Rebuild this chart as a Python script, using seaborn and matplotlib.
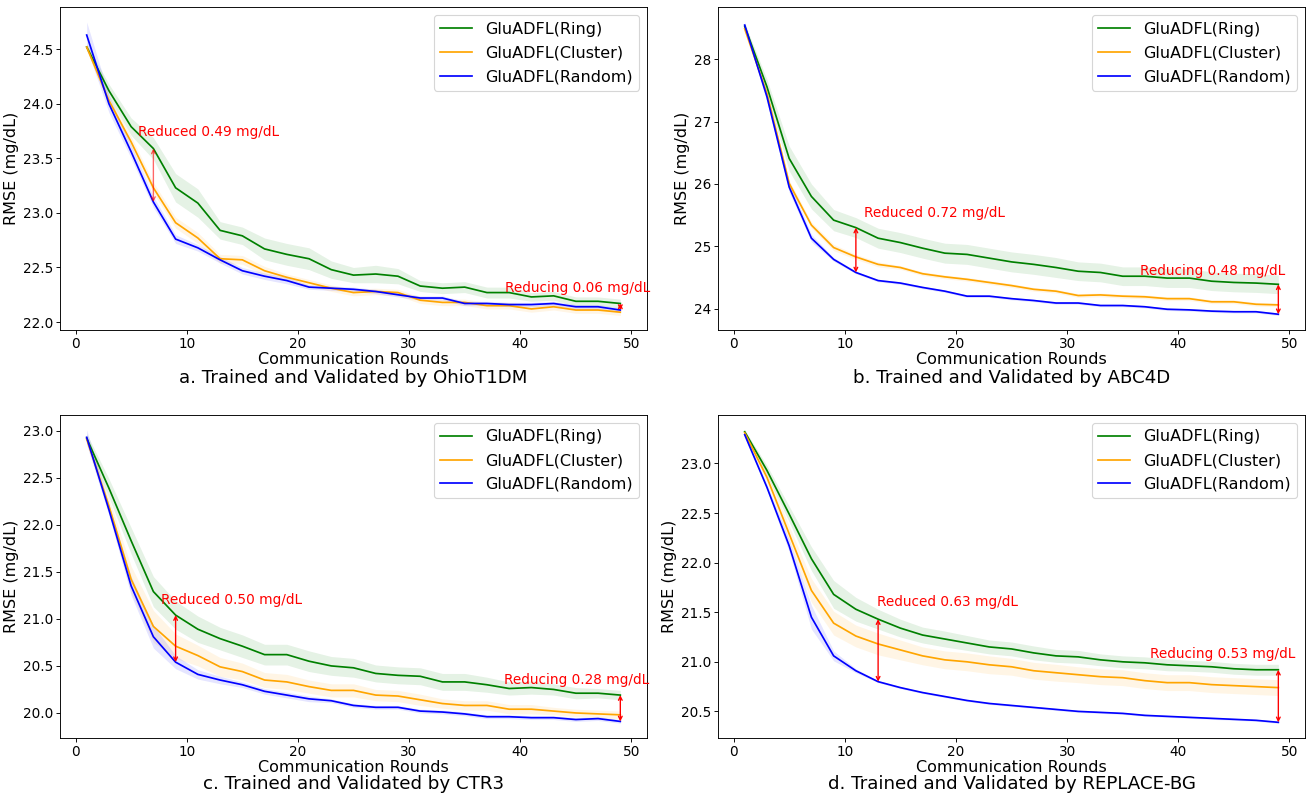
import numpy as np
import pandas as pd
import matplotlib
matplotlib.use("Agg")
import matplotlib.pyplot as plt
import seaborn as sns

# ---------------- data ----------------
rounds = list(range(1, 50, 2))
series_names = ["GluADFL(Ring)", "GluADFL(Cluster)", "GluADFL(Random)"]

# a. OhioT1DM
ohio_ring = [24.52, 24.12, 23.79, 23.59, 23.23, 23.09, 22.84, 22.79, 22.67, 22.62, 22.58, 22.48, 22.43,
             22.44, 22.42, 22.33, 22.31, 22.32, 22.27, 22.27, 22.23, 22.24, 22.19, 22.19, 22.17]
ohio_cluster = [24.52, 24.03, 23.65, 23.23, 22.91, 22.77, 22.58, 22.57, 22.47, 22.41, 22.36, 22.31, 22.27,
                22.28, 22.27, 22.20, 22.18, 22.18, 22.15, 22.15, 22.12, 22.14, 22.11, 22.11, 22.09]
ohio_random = [24.63, 24.00, 23.56, 23.10, 22.76, 22.68, 22.57, 22.47, 22.42, 22.38, 22.32, 22.31, 22.30,
               22.28, 22.25, 22.22, 22.22, 22.17, 22.17, 22.16, 22.16, 22.17, 22.14, 22.14, 22.11]
ohio_ring_sd = [0.03, 0.06, 0.08, 0.10, 0.13, 0.13, 0.08, 0.08, 0.10, 0.10, 0.10, 0.08, 0.07,
                0.08, 0.07, 0.05, 0.05, 0.05, 0.05, 0.05, 0.04, 0.04, 0.04, 0.04, 0.04]
ohio_cluster_sd = [0.03, 0.04, 0.05, 0.05, 0.05, 0.05, 0.04, 0.04, 0.04, 0.03, 0.03, 0.03, 0.03,
                   0.03, 0.03, 0.03, 0.03, 0.03, 0.03, 0.03, 0.03, 0.03, 0.03, 0.03, 0.03]
ohio_random_sd = [0.12, 0.08, 0.06, 0.05, 0.04, 0.03, 0.03, 0.03, 0.03, 0.03, 0.02, 0.02, 0.02,
                  0.02, 0.02, 0.02, 0.02, 0.02, 0.02, 0.02, 0.02, 0.02, 0.02, 0.02, 0.02]

# b. ABC4D
abc_ring = [28.53, 27.56, 26.41, 25.80, 25.42, 25.30, 25.13, 25.06, 24.97, 24.89, 24.87, 24.81, 24.75,
            24.71, 24.66, 24.60, 24.58, 24.52, 24.52, 24.49, 24.49, 24.44, 24.42, 24.41, 24.39]
abc_cluster = [28.49, 27.45, 26.01, 25.34, 24.98, 24.83, 24.71, 24.66, 24.56, 24.51, 24.47, 24.42, 24.37,
               24.31, 24.28, 24.21, 24.22, 24.20, 24.19, 24.16, 24.16, 24.11, 24.11, 24.07, 24.06]
abc_random = [28.55, 27.40, 25.95, 25.13, 24.79, 24.58, 24.45, 24.41, 24.34, 24.28, 24.20, 24.20, 24.16,
              24.13, 24.09, 24.09, 24.05, 24.05, 24.03, 23.99, 23.98, 23.96, 23.95, 23.95, 23.91]
abc_ring_sd = [0.05, 0.12, 0.20, 0.20, 0.17, 0.16, 0.16, 0.16, 0.16, 0.16, 0.16, 0.16, 0.16,
               0.16, 0.16, 0.15, 0.15, 0.15, 0.15, 0.15, 0.15, 0.15, 0.15, 0.15, 0.15]
abc_cluster_sd = [0.03, 0.04, 0.05, 0.05, 0.05, 0.04, 0.04, 0.03, 0.03, 0.03, 0.03, 0.03, 0.03,
                  0.03, 0.03, 0.03, 0.03, 0.03, 0.03, 0.03, 0.03, 0.03, 0.03, 0.03, 0.03]
abc_random_sd = [0.05, 0.08, 0.08, 0.06, 0.03, 0.02, 0.02, 0.02, 0.02, 0.02, 0.02, 0.02, 0.02,
                 0.02, 0.02, 0.02, 0.02, 0.02, 0.02, 0.02, 0.02, 0.02, 0.02, 0.02, 0.02]

# c. CTR3
ctr_ring = [22.92, 22.39, 21.83, 21.29, 21.04, 20.89, 20.79, 20.71, 20.62, 20.62, 20.55, 20.50, 20.48,
            20.42, 20.40, 20.39, 20.33, 20.33, 20.30, 20.26, 20.27, 20.25, 20.21, 20.21, 20.19]
ctr_cluster = [22.91, 22.20, 21.42, 20.92, 20.71, 20.61, 20.49, 20.44, 20.35, 20.33, 20.28, 20.24, 20.24,
               20.19, 20.18, 20.14, 20.10, 20.08, 20.08, 20.04, 20.04, 20.02, 20.00, 19.99, 19.98]
ctr_random = [22.93, 22.16, 21.35, 20.81, 20.54, 20.41, 20.35, 20.30, 20.23, 20.19, 20.15, 20.13, 20.08,
              20.06, 20.06, 20.02, 20.01, 19.99, 19.96, 19.96, 19.95, 19.95, 19.93, 19.94, 19.91]
ctr_ring_sd = [0.05, 0.10, 0.14, 0.16, 0.15, 0.14, 0.12, 0.12, 0.11, 0.11, 0.11, 0.10, 0.10,
               0.09, 0.09, 0.09, 0.09, 0.09, 0.08, 0.07, 0.07, 0.06, 0.06, 0.05, 0.05]
ctr_cluster_sd = [0.04, 0.08, 0.14, 0.17, 0.13, 0.11, 0.10, 0.09, 0.08, 0.08, 0.07, 0.07, 0.07,
                  0.06, 0.06, 0.06, 0.05, 0.05, 0.05, 0.05, 0.05, 0.04, 0.04, 0.04, 0.04]
ctr_random_sd = [0.08, 0.06, 0.10, 0.12, 0.07, 0.05, 0.04, 0.03, 0.03, 0.03, 0.03, 0.02, 0.02,
                 0.02, 0.02, 0.02, 0.02, 0.02, 0.02, 0.02, 0.02, 0.02, 0.02, 0.02, 0.02]

# d. REPLACE-BG
rep_ring = [23.32, 22.93, 22.49, 22.04, 21.68, 21.53, 21.43, 21.34, 21.27, 21.23, 21.19, 21.15, 21.13,
            21.09, 21.06, 21.05, 21.02, 21.00, 20.99, 20.97, 20.96, 20.95, 20.93, 20.92, 20.92]
rep_cluster = [23.31, 22.86, 22.29, 21.72, 21.39, 21.26, 21.18, 21.12, 21.06, 21.02, 21.00, 20.97, 20.95,
               20.91, 20.89, 20.87, 20.85, 20.84, 20.81, 20.79, 20.79, 20.77, 20.76, 20.75, 20.74]
rep_random = [23.29, 22.76, 22.17, 21.45, 21.06, 20.91, 20.80, 20.74, 20.69, 20.65, 20.61, 20.58, 20.56,
              20.54, 20.52, 20.50, 20.49, 20.48, 20.46, 20.45, 20.44, 20.43, 20.42, 20.41, 20.39]
rep_ring_sd = [0.02, 0.05, 0.08, 0.12, 0.14, 0.12, 0.10, 0.09, 0.08, 0.08, 0.075, 0.07, 0.07,
               0.07, 0.065, 0.065, 0.06, 0.06, 0.06, 0.06, 0.055, 0.055, 0.055, 0.055, 0.055]
rep_cluster_sd = [0.02, 0.05, 0.08, 0.12, 0.12, 0.11, 0.11, 0.10, 0.09, 0.09, 0.09, 0.09, 0.085,
                  0.085, 0.085, 0.08, 0.08, 0.08, 0.08, 0.08, 0.08, 0.08, 0.08, 0.08, 0.08]
rep_random_sd = [0.02, 0.03, 0.06, 0.12, 0.05, 0.02, 0.01, 0.01, 0.01, 0.01, 0.01, 0.01, 0.01,
                 0.01, 0.01, 0.01, 0.01, 0.01, 0.01, 0.01, 0.01, 0.01, 0.01, 0.01, 0.01]

captions = ["a. Trained and Validated by OhioT1DM", "b. Trained and Validated by ABC4D",
            "c. Trained and Validated by CTR3", "d. Trained and Validated by REPLACE-BG"]

# annotations: round of the middle arrow and the texts
mid_rounds = [7, 11, 9, 13]
mid_texts = ["Reduced 0.49 mg/dL", "Reduced 0.72 mg/dL", "Reduced 0.50 mg/dL", "Reduced 0.63 mg/dL"]
end_texts = ["Reducing 0.06 mg/dL", "Reducing 0.48 mg/dL", "Reducing 0.28 mg/dL", "Reducing 0.53 mg/dL"]

panels = [
    (ohio_ring, ohio_cluster, ohio_random, ohio_ring_sd, ohio_cluster_sd, ohio_random_sd),
    (abc_ring, abc_cluster, abc_random, abc_ring_sd, abc_cluster_sd, abc_random_sd),
    (ctr_ring, ctr_cluster, ctr_random, ctr_ring_sd, ctr_cluster_sd, ctr_random_sd),
    (rep_ring, rep_cluster, rep_random, rep_ring_sd, rep_cluster_sd, rep_random_sd),
]

# text placement (layout)
mid_text_pos = [(5.6, 23.74), (11.7, 25.53), (7.7, 21.20), (12.9, 21.60)]
end_text_pos = [(38.6, 22.31), (36.6, 24.61), (38.55, 20.35), (37.5, 21.08)]
mid_arrow_alpha = [0.6, 1.0, 1.0, 1.0]

colors = ["green", "orange", "blue"]

# ---------------- plot ----------------
DPI = 82
fig, axes = plt.subplots(2, 2, figsize=(1310 / DPI, 798 / DPI), dpi=DPI)
fig.subplots_adjust(left=0.0458, right=0.9962, top=0.9909, bottom=0.0752, wspace=0.121, hspace=0.263)

x = np.array(rounds)
for i, ax in enumerate(axes.flat):
    ring, cluster, rnd, ring_sd, cluster_sd, rnd_sd = panels[i]
    vals = [ring, cluster, rnd]
    sds = [ring_sd, cluster_sd, rnd_sd]
    for v, s, c in zip(vals, sds, colors):
        v = np.array(v); s = np.array(s)
        ax.fill_between(x, v - s, v + s, color=c, alpha=0.1, linewidth=0)
    for name, v, c in zip(series_names, vals, colors):
        df = pd.DataFrame({"Communication Rounds": rounds, "RMSE": v})
        sns.lineplot(data=df, x="Communication Rounds", y="RMSE", color=c, label=name,
                     ax=ax, linewidth=1.5)

    # middle arrow
    k = rounds.index(mid_rounds[i])
    ax.annotate("", xy=(mid_rounds[i], rnd[k]), xytext=(mid_rounds[i], ring[k]),
                arrowprops=dict(arrowstyle="<->", color="red", lw=1.2, shrinkA=0, shrinkB=0,
                                mutation_scale=8, alpha=mid_arrow_alpha[i]))
    ax.text(mid_text_pos[i][0], mid_text_pos[i][1], mid_texts[i], color="red", fontsize=12,
            ha="left", va="center")
    # end arrow
    ax.annotate("", xy=(rounds[-1], rnd[-1]), xytext=(rounds[-1], ring[-1]),
                arrowprops=dict(arrowstyle="<->", color="red", lw=1.2, shrinkA=0, shrinkB=0,
                                mutation_scale=8))
    ax.text(end_text_pos[i][0], end_text_pos[i][1], end_texts[i], color="red", fontsize=12,
            ha="left", va="center")

    ax.set_xlabel("Communication Rounds", fontsize=14, labelpad=1)
    ax.set_ylabel("RMSE (mg/dL)", fontsize=14, labelpad=3)
    ax.tick_params(labelsize=12, pad=2.5)
    ax.set_xticks([0, 10, 20, 30, 40, 50])
    ax.legend(loc="upper right", fontsize=14, labelspacing=0.55)

# captions below each panel (figure coordinates)
cap_y = [1 - 378 / 798, 1 - 378 / 798, 1 - 784 / 798, 1 - 784 / 798]
for i, ax in enumerate(axes.flat):
    pos = ax.get_position()
    fig.text((pos.x0 + pos.x1) / 2, cap_y[i], captions[i], ha="center", va="center", fontsize=16)

fig.savefig("out.png", dpi=DPI)
